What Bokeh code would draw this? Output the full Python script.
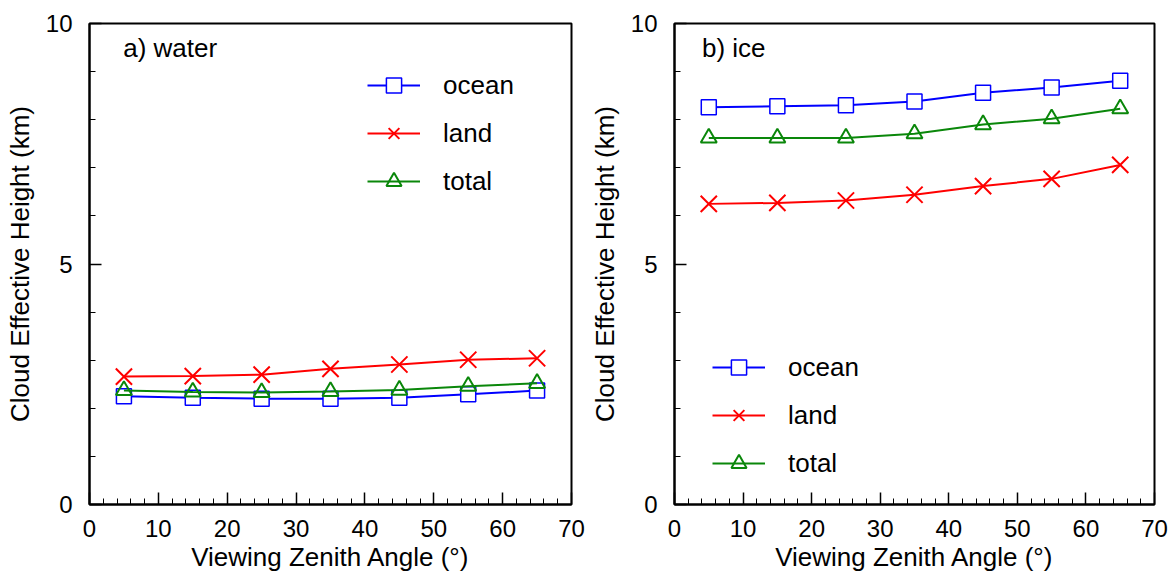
from bokeh.plotting import figure
from bokeh.layouts import row
from bokeh.models import FixedTicker, Legend, LegendItem, Range1d, Label
from bokeh.embed import file_html
from bokeh.resources import INLINE

# ---- data ----
vza = [5, 15, 25, 35, 45, 55, 65]

water_ocean = [2.25, 2.22, 2.20, 2.20, 2.22, 2.29, 2.37]
water_land = [2.66, 2.67, 2.70, 2.82, 2.91, 3.01, 3.04]
water_total = [2.37, 2.34, 2.33, 2.35, 2.38, 2.46, 2.52]

ice_ocean = [8.26, 8.28, 8.30, 8.38, 8.56, 8.67, 8.81]
ice_land = [6.25, 6.27, 6.32, 6.44, 6.62, 6.77, 7.06]
ice_total = [7.62, 7.62, 7.62, 7.71, 7.90, 8.02, 8.23]

x_major = [0, 10, 20, 30, 40, 50, 60, 70]
x_minor = list(range(0, 71, 2))
y_major = [0, 5, 10]
y_minor = list(range(0, 11))

series_names = ["ocean", "land", "total"]
panel_titles = ["a) water", "b) ice"]

FONT = "Liberation Sans"
BLUE = "#0000ff"
RED = "#ff0000"
GREEN = "#0a870a"


def make_panel(ocean, land, total, title, border_left, border_right, legend_loc, title_x):
    p = figure(width=border_left + 482 + border_right, height=580,
               x_range=Range1d(0, 70), y_range=Range1d(0, 10),
               output_backend="svg", toolbar_location=None,
               min_border_left=border_left, min_border_right=border_right,
               min_border_top=23, min_border_bottom=76)
    p.xgrid.visible = False
    p.ygrid.visible = False
    p.outline_line_color = "black"
    p.outline_line_width = 2
    p.outline_line_alpha = 1
    p.background_fill_color = "white"
    p.border_fill_color = "white"

    p.xaxis.ticker = FixedTicker(ticks=x_major, minor_ticks=x_minor)
    p.yaxis.ticker = FixedTicker(ticks=y_major, minor_ticks=y_minor)
    for ax in (p.xaxis[0], p.yaxis[0]):
        ax.axis_line_color = "black"
        ax.axis_line_width = 2
        ax.major_tick_in = 12
        ax.major_tick_out = 0
        ax.minor_tick_in = 6
        ax.minor_tick_out = 0
        ax.major_tick_line_color = "black"
        ax.major_tick_line_width = 1.5
        ax.minor_tick_line_color = "black"
        ax.minor_tick_line_width = 1
        ax.major_label_text_font = FONT
        ax.major_label_text_font_size = "24px"
        ax.major_label_text_color = "black"
        ax.axis_label_text_font = FONT
        ax.axis_label_text_font_size = "26px"
        ax.axis_label_text_font_style = "normal"
        ax.axis_label_text_color = "black"
    p.xaxis.axis_label = "Viewing Zenith Angle (°)"
    p.yaxis.axis_label = "Cloud Effective Height (km)"
    p.xaxis.major_label_standoff = 15
    p.xaxis.axis_label_standoff = 2
    p.yaxis.major_label_standoff = 17
    p.yaxis.axis_label_standoff = 8

    l1 = p.line(vza, ocean, line_color=BLUE, line_width=2)
    m1 = p.scatter(vza, ocean, marker="square", size=15, line_color=BLUE,
                   line_width=1.5, fill_color="white")
    l2 = p.line(vza, land, line_color=RED, line_width=2)
    m2 = p.scatter(vza, land, marker="x", size=23, line_color=RED, line_width=2)
    l3 = p.line(vza, total, line_color=GREEN, line_width=2)
    m3 = p.scatter(vza, total, marker="triangle", size=16, line_color=GREEN,
                   line_width=2, fill_alpha=0)

    legend = Legend(items=[LegendItem(label=series_names[0], renderers=[l1, m1]),
                           LegendItem(label=series_names[1], renderers=[l2, m2]),
                           LegendItem(label=series_names[2], renderers=[l3, m3])],
                    location=legend_loc, padding=0, margin=0, spacing=10,
                    glyph_width=53, glyph_height=38, label_height=38,
                    label_standoff=23, label_text_font=FONT,
                    label_text_font_size="26px", label_text_color="black",
                    border_line_alpha=0, background_fill_alpha=0)
    p.add_layout(legend)

    lab = Label(x=title_x, y=9.5, text=title, text_font=FONT,
                text_font_size="26px", text_baseline="middle",
                text_color="black")
    p.add_layout(lab)
    return p


p1 = make_panel(water_ocean, water_land, water_total, panel_titles[0],
                89, 15, (278, 304), 4.9)
p2 = make_panel(ice_ocean, ice_land, ice_total, panel_titles[1],
                86, 18, (38, 22), 4.0)

layout = row(p1, p2, spacing=0)
open("out.html", "w").write(file_html(layout, INLINE))
